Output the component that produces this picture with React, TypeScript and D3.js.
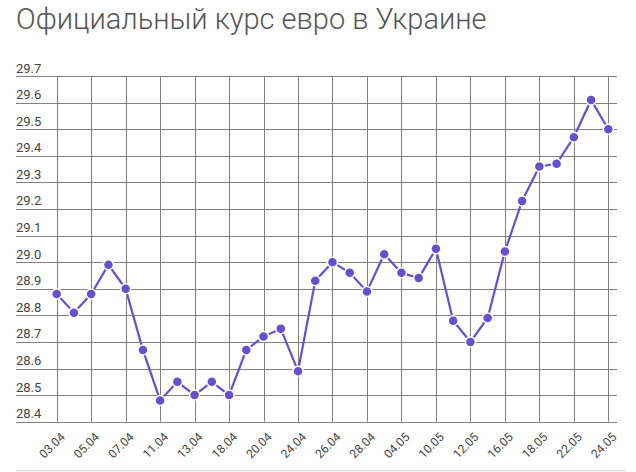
import { useRef, useEffect } from "react";
import * as d3 from "d3";

const dates = [
    "03.04", "04.04", "05.04", "06.04", "07.04", "10.04", "11.04", "12.04",
    "13.04", "17.04", "18.04", "19.04", "20.04", "21.04", "24.04", "25.04",
    "26.04", "27.04", "28.04", "03.05", "04.05", "05.05", "10.05", "11.05",
    "12.05", "15.05", "16.05", "17.05", "18.05", "19.05", "22.05", "23.05",
    "24.05",
];

const rates = [
    28.88, 28.81, 28.88, 28.99, 28.9, 28.67, 28.48, 28.55,
    28.5, 28.55, 28.5, 28.67, 28.72, 28.75, 28.59, 28.93,
    29.0, 28.96, 28.89, 29.03, 28.96, 28.94, 29.05, 28.78,
    28.7, 28.79, 29.04, 29.23, 29.36, 29.37, 29.47, 29.61,
    29.5,
];

const tickLabels = [
    "03.04", "05.04", "07.04", "11.04", "13.04", "18.04", "20.04", "24.04",
    "26.04", "28.04", "04.05", "10.05", "12.05", "16.05", "18.05", "22.05",
    "24.05",
];

const yTicks = [28.4, 28.5, 28.6, 28.7, 28.8, 28.9, 29.0, 29.1, 29.2, 29.3, 29.4, 29.5, 29.6, 29.7];

const title = "Официальный курс евро в Украине";

export default function App() {
    const svgRef = useRef<SVGSVGElement>(null);

    useEffect(() => {
        if (!svgRef.current) return;
        const svg = d3.select(svgRef.current);
        svg.selectAll("*").remove();

        const width = 636;
        const height = 472;
        const gridLeft = 16;
        const gridRight = 617;

        const x = d3.scalePoint<string>().domain(dates).range([56.7, 608.3]);
        const y = d3.scaleLinear().domain([28.4, 29.7]).range([421.7, 76]);

        svg.append("text")
            .attr("x", 16)
            .attr("y", 28.5)
            .attr("font-family", "Roboto")
            .attr("font-weight", 300)
            .attr("font-size", 29)
            .attr("fill", "#555")
            .text(title);

        // horizontal grid + labels
        const gy = svg.append("g");
        gy.selectAll("line")
            .data(yTicks)
            .enter()
            .append("line")
            .attr("x1", gridLeft)
            .attr("x2", gridRight)
            .attr("y1", (d) => Math.round(y(d)) + 0.5)
            .attr("y2", (d) => Math.round(y(d)) + 0.5)
            .attr("stroke", "#808080")
            .attr("stroke-width", 1);
        gy.selectAll("text")
            .data(yTicks)
            .enter()
            .append("text")
            .attr("x", gridLeft)
            .attr("y", (d) => y(d) - 3.5)
            .attr("font-family", "Roboto")
            .attr("font-size", 13)
            .attr("fill", "#444")
            .text((d) => d3.format(".1f")(d));

        // vertical grid + labels
        const gx = svg.append("g");
        gx.selectAll("line")
            .data(tickLabels)
            .enter()
            .append("line")
            .attr("x1", (d) => Math.round(x(d)!) + 0.5)
            .attr("x2", (d) => Math.round(x(d)!) + 0.5)
            .attr("y1", y(29.7))
            .attr("y2", y(28.4))
            .attr("stroke", "#808080")
            .attr("stroke-width", 1);
        gx.selectAll("text")
            .data(tickLabels)
            .enter()
            .append("text")
            .attr(
                "transform",
                (d) => `translate(${x(d)! + 3},${y(28.4) + 10}) rotate(-45)`,
            )
            .attr("text-anchor", "end")
            .attr("dy", "0.7em")
            .attr("font-family", "Roboto")
            .attr("font-size", 12)
            .attr("fill", "#444")
            .text((d) => d);

        // bottom separator
        svg.append("line")
            .attr("x1", 16)
            .attr("x2", 625)
            .attr("y1", 470.5)
            .attr("y2", 470.5)
            .attr("stroke", "#ddd")
            .attr("stroke-width", 1.5);

        const color = "#6650d0";
        const line = d3
            .line<number>()
            .x((_, i) => x(dates[i])!)
            .y((d) => y(d));

        svg.append("path")
            .datum(rates)
            .attr("d", line)
            .attr("fill", "none")
            .attr("stroke", color)
            .attr("stroke-width", 2.2);

        svg.append("g")
            .selectAll("circle")
            .data(rates)
            .enter()
            .append("circle")
            .attr("cx", (_, i) => x(dates[i])!)
            .attr("cy", (d) => y(d))
            .attr("r", 5)
            .attr("fill", color)
            .attr("stroke", "#fff")
            .attr("stroke-width", 1.5);

        svg.attr("width", width).attr("height", height);
    }, []);

    return (
        <svg
            ref={svgRef}
            style={{ position: "absolute", left: 0, top: 0, background: "#fff" }}
        />
    );
}
